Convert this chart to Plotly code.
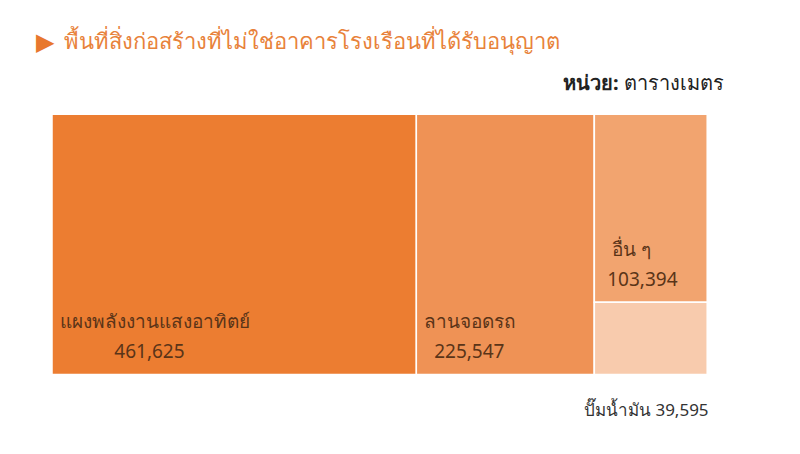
import plotly.graph_objects as go

title_text = "พื้นที่สิ่งก่อสร้างที่ไม่ใช่อาคารโรงเรือนที่ได้รับอนุญาต"
unit_label = "หน่วย:"
unit_text = "ตารางเมตร"

categories = ["แผงพลังงานแสงอาทิตย์", "ลานจอดรถ", "อื่น ๆ", "ปั๊มน้ำมัน"]
values = [461625, 225547, 103394, 39595]
colors = ["#EC7D31", "#EF9255", "#F2A46F", "#F8CBAD"]

NB = "\u00a0"
S = "<span style='font-size:19px'>"
E = "</span>"
LIFT = "<span style='font-size:44px'>" + NB + "</span>"
ids = ["solar", "parking", "grp", "others", "gas"]
labels = [categories[0], categories[1], "", categories[2], categories[3]]
parents = ["", "", "", "grp", "grp"]
vals = [values[0], values[1], values[2] + values[3], values[2], values[3]]
mcolors = [colors[0], colors[1], colors[2], colors[2], colors[3]]
templates = [
    S + NB + "%{label}" + E + "<br>" + S + NB * 12 + "%{value:,}" + E + LIFT,
    S + NB + "%{label}" + E + "<br>" + S + NB * 3 + "%{value:,}" + E + LIFT,
    "",
    S + NB * 3 + "%{label}" + E + "<br>" + S + NB * 2 + "%{value:,}" + E + LIFT,
    "",
]

fig = go.Figure(go.Treemap(
    ids=ids,
    labels=labels,
    parents=parents,
    values=vals,
    branchvalues="total",
    sort=False,
    marker=dict(colors=mcolors, line=dict(color="white", width=1.5),
                pad=dict(t=0, l=0, r=0, b=0)),
    tiling=dict(packing="slice-dice", pad=0),
    pathbar=dict(visible=False),
    texttemplate=templates,
    textposition="bottom left",
    textfont=dict(family="Noto Sans, sans-serif", size=23, color="#5A3418"),
    hoverinfo="skip",
    domain=dict(x=[0.055, 0.874], y=[0.193, 0.766]),
))

fig.update_layout(
    width=800, height=454,
    margin=dict(l=0, r=0, t=0, b=0),
    paper_bgcolor="white",
    annotations=[
        dict(text="▶", x=0.033, y=0.925, xref="paper", yref="paper", showarrow=False,
             xanchor="left", yanchor="middle",
             font=dict(size=24, color="#E8772E", family="DejaVu Sans")),
        dict(text=title_text, x=0.068, y=0.929, xref="paper", yref="paper", showarrow=False,
             xanchor="left", yanchor="middle",
             font=dict(size=22, color="#E8823A", family="Noto Sans, sans-serif")),
        dict(text="<b>" + unit_label + "</b> " + unit_text, x=0.897, y=0.836,
             xref="paper", yref="paper", showarrow=False, xanchor="right", yanchor="middle",
             font=dict(size=20, color="#222222", family="Noto Sans, sans-serif")),
        dict(text=f"{categories[3]} {values[3]:,}", x=0.879, y=0.116,
             xref="paper", yref="paper", showarrow=False, xanchor="right", yanchor="middle",
             font=dict(size=17, color="#333333", family="Noto Sans, sans-serif")),
    ],
)

fig.write_html("out.html")
